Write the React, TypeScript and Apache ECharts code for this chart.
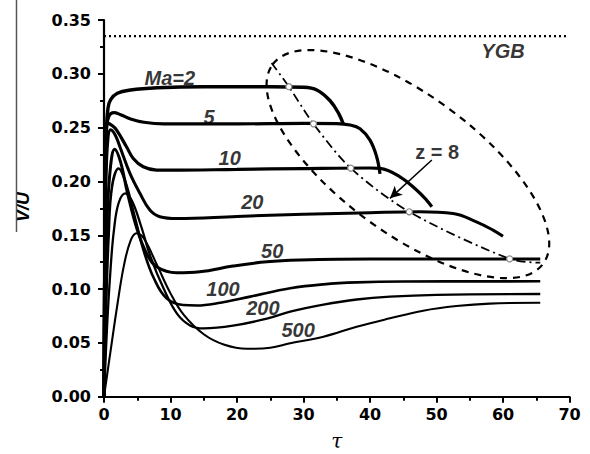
import React, { useEffect, useRef } from "react";
import * as echarts from "echarts";

// V/U against tau for several Mach numbers
const ma2 = [[0, 0], [0.15, 0.15], [0.3, 0.24], [0.6, 0.268], [1, 0.276], [2, 0.282], [4, 0.285], [8, 0.287], [15, 0.288], [25, 0.288], [30, 0.2875], [32, 0.285], [34, 0.275], [35.3, 0.263], [36, 0.253]];
const ma5 = [[0, 0], [0.15, 0.16], [0.35, 0.245], [0.7, 0.26], [1.5, 0.264], [2.5, 0.262], [4, 0.258], [6, 0.255], [9, 0.2535], [20, 0.2535], [30, 0.254], [35, 0.2538], [37, 0.2525], [38.5, 0.249], [40, 0.2384], [41, 0.223], [41.5, 0.207]];
const ma10 = [[0, 0], [0.12, 0.14], [0.3, 0.235], [0.6, 0.254], [1.2, 0.252], [1.9, 0.2477], [3.4, 0.232], [4.4, 0.2214], [5.9, 0.2136], [7.9, 0.2106], [10, 0.2105], [20, 0.2112], [30, 0.212], [40, 0.2125], [41.5, 0.2121], [44.5, 0.2043], [47, 0.192], [48.5, 0.1827], [49.3, 0.1765]];
const ma20 = [[0, 0], [0.1, 0.1], [0.3, 0.2], [0.6, 0.24], [1, 0.248], [1.7, 0.243], [2.4, 0.232], [3.9, 0.2075], [5.4, 0.189], [6.9, 0.1734], [8.4, 0.1672], [11, 0.1655], [20, 0.1675], [30, 0.1695], [40, 0.171], [47.5, 0.1718], [52.5, 0.1703], [56, 0.1625], [58.5, 0.1548], [60, 0.149]];
const ma50 = [[0, 0], [0.2, 0.09], [0.5, 0.17], [1, 0.215], [1.6, 0.23], [2.5, 0.218], [3.5, 0.19], [5, 0.155], [6.5, 0.132], [7.9, 0.1208], [10.9, 0.1152], [14.4, 0.1161], [19.4, 0.1214], [24.5, 0.1254], [29.5, 0.127], [40, 0.128], [50, 0.128], [65.6, 0.128]];
const ma100 = [[0, 0], [0.3, 0.08], [0.7, 0.15], [1.2, 0.195], [2.2, 0.212], [3.2, 0.2], [4.5, 0.17], [6, 0.135], [7.5, 0.11], [9.4, 0.0914], [11.9, 0.0852], [14, 0.0848], [17, 0.0868], [22, 0.093], [28, 0.1007], [33, 0.1044], [38, 0.1062], [45, 0.107], [65.6, 0.1072]];
const ma200 = [[0, 0], [0.5, 0.07], [1, 0.12], [1.5, 0.155], [2.2, 0.18], [3.2, 0.189], [4.2, 0.182], [5.5, 0.16], [7, 0.13], [9, 0.1], [11, 0.077], [13, 0.066], [15, 0.0635], [19.4, 0.066], [24.5, 0.0725], [28, 0.079], [33, 0.0855], [38, 0.0903], [43, 0.093], [50, 0.0947], [65.6, 0.0954]];
const ma500 = [[0, 0], [1, 0.043], [2, 0.085], [3, 0.122], [4, 0.145], [4.9, 0.1518], [6, 0.147], [8, 0.122], [10, 0.096], [12, 0.076], [15, 0.058], [18, 0.0485], [21.5, 0.0445], [25, 0.0455], [28, 0.0496], [33, 0.0557], [38, 0.065], [43, 0.0728], [48, 0.0799], [53, 0.0842], [58, 0.0865], [65.6, 0.0873]];

const curves = [
  { name: "Ma=2", data: ma2, width: 3.4 },
  { name: "Ma=5", data: ma5, width: 3.2 },
  { name: "Ma=10", data: ma10, width: 3.2 },
  { name: "Ma=20", data: ma20, width: 3 },
  { name: "Ma=50", data: ma50, width: 3 },
  { name: "Ma=100", data: ma100, width: 2.6 },
  { name: "Ma=200", data: ma200, width: 2.3 },
  { name: "Ma=500", data: ma500, width: 2.1 },
];

// z = 8 locus and its crossings with the curves
const zLine = [[25.2, 0.31], [27.8, 0.288], [31.5, 0.2535], [37.1, 0.2124], [45.9, 0.1718], [61, 0.128], [65.6, 0.1245]];
const zPoints = [[27.8, 0.288], [31.5, 0.2535], [37.1, 0.2124], [45.9, 0.1718], [61, 0.128]];
const zArrow = [[49.3, 0.2199], [43.0, 0.1843]];

const ygbLevel = 0.335;
const ygbEnd = 69.5;

const curveLabels = [
  { name: "Ma=2", value: [9.9, 0.2962] },
  { name: "5", value: [15.8, 0.2597] },
  { name: "10", value: [18.9, 0.2217] },
  { name: "20", value: [22.3, 0.181] },
  { name: "50", value: [25.3, 0.1353] },
  { name: "100", value: [17.9, 0.1001] },
  { name: "200", value: [23.9, 0.0824] },
  { name: "500", value: [29.2, 0.062] },
  { name: "YGB", value: [60.0, 0.321] },
];
const zLabel = { name: "z = 8", value: [50.1, 0.2273] };

// dashed ellipse enclosing the curve ends
const ellipseCenter = [45.7, 0.2161];
const ellipseRx = 168;
const ellipseRy = 69;
const ellipseTilt = -36.4;

export default function App() {
  const ref = useRef<HTMLDivElement>(null);

  useEffect(() => {
    const chart = echarts.init(ref.current!, null, { renderer: "svg" });
    const labelFont = "'Liberation Sans', Arial, sans-serif";

    const series: any[] = curves.map((c) => ({
      name: c.name,
      type: "line",
      data: c.data,
      showSymbol: false,
      symbol: "none",
      smooth: 0.4,
      lineStyle: { color: "#000", width: c.width },
      z: 3,
      silent: true,
    }));

    series.push({
      name: "YGB",
      type: "line",
      data: [[0, ygbLevel], [ygbEnd, ygbLevel]],
      symbol: "none",
      lineStyle: { color: "#000", width: 2.4, type: [2, 3] },
      silent: true,
    });

    series.push({
      name: "z=8",
      type: "line",
      data: zLine,
      symbol: "none",
      smooth: 0.3,
      lineStyle: { color: "#000", width: 1.8, type: [9, 4, 2, 4] },
      z: 4,
      silent: true,
      markLine: {
        silent: true,
        symbol: ["none", "arrow"],
        symbolSize: [9, 12],
        label: { show: false },
        lineStyle: { color: "#000", width: 1.5, type: "solid" },
        data: [[{ coord: zArrow[0] }, { coord: zArrow[1] }]],
      },
    });

    series.push({
      name: "crossings",
      type: "scatter",
      data: zPoints,
      symbol: "circle",
      symbolSize: 6,
      itemStyle: { color: "#fff", borderColor: "#888", borderWidth: 1.2, opacity: 1 },
      z: 6,
      silent: true,
    });

    series.push({
      name: "labels",
      type: "scatter",
      symbolSize: 0,
      silent: true,
      z: 7,
      itemStyle: { color: "#000" },
      data: [
        ...curveLabels,
        {
          ...zLabel,
          label: { fontStyle: "normal", fontSize: 20 },
        },
      ],
      label: {
        show: true,
        position: "inside",
        formatter: "{b}",
        color: "#000",
        textBorderWidth: 0,
        textBorderColor: "transparent",
        fontFamily: labelFont,
        fontWeight: "bold",
        fontStyle: "italic",
        fontSize: 20,
      },
    });

    const tickFont = {
      fontFamily: "'DejaVu Sans', sans-serif",
      fontWeight: "bold",
      fontSize: 16,
      color: "#000",
    };

    chart.setOption({
      animation: false,
      backgroundColor: "#fff",
      grid: { left: 104, right: 20.5, top: 20, bottom: 57.3, outerBoundsMode: "none" },
      xAxis: {
        type: "value",
        min: 0,
        max: 70,
        interval: 10,
        name: "τ",
        nameLocation: "middle",
        nameGap: 34,
        nameTextStyle: {
          fontFamily: "'DejaVu Serif', serif",
          fontStyle: "italic",
          fontSize: 20,
          color: "#000",
          lineHeight: 20,
        },
        axisLine: { lineStyle: { color: "#000", width: 2.2 } },
        axisTick: { length: 6, lineStyle: { color: "#000", width: 2 } },
        minorTick: { show: true, splitNumber: 2, length: 4, lineStyle: { color: "#000", width: 2 } },
        splitLine: { show: false },
        axisLabel: { ...tickFont, margin: 10 },
      },
      yAxis: {
        type: "value",
        min: 0,
        max: 0.35,
        interval: 0.05,
        axisLine: { show: true, lineStyle: { color: "#000", width: 2.2 } },
        axisTick: { show: true, length: 6, lineStyle: { color: "#000", width: 2 } },
        minorTick: { show: true, splitNumber: 2, length: 4, lineStyle: { color: "#000", width: 2 } },
        splitLine: { show: false },
        axisLabel: { ...tickFont, margin: 13, formatter: (v: number) => v.toFixed(2) },
      },
      series,
    });

    const c = chart.convertToPixel({ gridIndex: 0 }, ellipseCenter) as number[];
    chart.setOption({
      graphic: [
        {
          type: "ellipse",
          x: c[0],
          y: c[1],
          rotation: (ellipseTilt * Math.PI) / 180,
          shape: { cx: 0, cy: 0, rx: ellipseRx, ry: ellipseRy },
          style: { fill: "none", stroke: "#000", lineWidth: 2.2, lineDash: [7, 6] },
          silent: true,
          z: 10,
        },
        {
          type: "text",
          x: 23,
          y: 207,
          rotation: Math.PI / 2,
          style: {
            text: "V/U",
            font: "italic bold 18px 'Liberation Sans', Arial, sans-serif",
            fill: "#000",
            textAlign: "center",
            textVerticalAlign: "middle",
          },
          silent: true,
          z: 10,
        },
        {
          type: "rect",
          shape: { x: 0, y: 0, width: 16, height: 240 },
          style: { fill: "#fff" },
          silent: true,
          z: 11,
        },
        {
          type: "line",
          shape: { x1: 16.5, y1: 0, x2: 16.5, y2: 232 },
          style: { stroke: "#555", lineWidth: 1.5 },
          silent: true,
          z: 12,
        },
      ],
    });

    return () => chart.dispose();
  }, []);

  return (
    <div
      ref={ref}
      style={{ position: "absolute", left: 0, top: 0, width: 590, height: 454, background: "#fff" }}
    />
  );
}
